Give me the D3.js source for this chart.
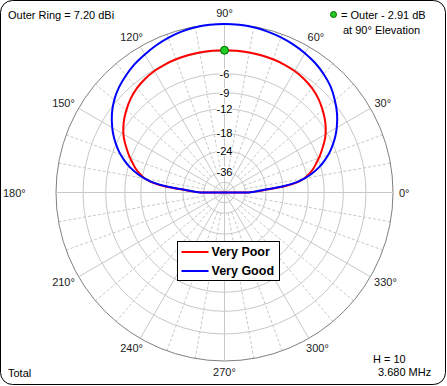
<!DOCTYPE html>
<html>
<head>
<meta charset="utf-8">
<script src="https://cdn.jsdelivr.net/npm/d3@7"></script>
<style>
  body { margin: 0; background: #fff; }
  svg { display: block; font-family: Arial, "Liberation Sans", sans-serif; }
</style>
</head>
<body>
<svg id="chart" width="447" height="386"></svg>
<script>
// ---------- data (dB relative to outer ring, by elevation angle) ----------
const elevations = [0, 2, 4, 6, 8, 10, 12, 15, 18, 21, 24, 27, 30, 35, 40, 45, 50, 55, 60, 65, 70, 75, 80, 85, 90,
  95, 100, 105, 110, 115, 120, 125, 130, 135, 140, 145, 150, 153, 156, 159, 162, 165, 168, 170, 172, 174, 176, 178, 180];

const veryPoor = [-33.4, -28.5, -23.8, -17.6, -14.3, -12.6, -11.6, -10.4, -9.5, -8.6, -7.8, -7.0, -6.3, -5.4, -4.7, -4.1, -3.65, -3.35, -3.15, -3.03, -2.96, -2.93, -2.91, -2.91, -2.91,
  -2.91, -2.91, -2.93, -2.96, -3.03, -3.15, -3.35, -3.65, -4.1, -4.7, -5.4, -6.3, -7.0, -7.8, -8.6, -9.5, -10.4, -11.6, -12.6, -14.3, -17.6, -23.8, -28.5, -33.4];

const veryGood = [-33.4, -29, -24.5, -18, -14.5, -12.5, -11, -9.3, -8, -6.9, -6.0, -5.2, -4.5, -3.5, -2.7, -2.0, -1.5, -1.1, -0.8, -0.55, -0.35, -0.2, -0.08, -0.02, 0,
  -0.02, -0.08, -0.2, -0.4, -0.65, -0.95, -1.25, -1.65, -2.1, -2.7, -3.5, -4.5, -5.2, -6.0, -6.9, -8.0, -9.3, -11, -12.5, -14.5, -18, -24.5, -29, -33.4];

const ringDb = [0, -3, -6, -9, -12, -18, -24, -36, -48];
const ringLabels = [-6, -9, -12, -18, -24, -36];
const angleTicks = d3.range(0, 360, 30);
const minorAngles = d3.range(0, 360, 10).filter(a => a % 30 !== 0);

const seriesNames = ["Very Poor", "Very Good"];
const seriesColors = ["#ff0000", "#0000ff"];

const maxLabel = "Outer Ring = 7.20 dBi";
const markerText = ["= Outer - 2.91 dB", "at 90\u00b0 Elevation"];
const markerElev = 90;
const markerDb = -2.91;

// ---------- setup ----------
const svg = d3.select("#chart");
const cx = 224.5, cy = 192.5, R = 168.5;

// ARRL style log scale: 0.89 per 2 dB
const rScale = db => R * Math.pow(0.89, -db / 2);
const rad = a => a * Math.PI / 180;
const px = (a, r) => cx + r * Math.cos(rad(a));
const py = (a, r) => cy - r * Math.sin(rad(a));

// border
svg.append("rect")
  .attr("x", 0.5).attr("y", 0.5)
  .attr("width", 445).attr("height", 384)
  .attr("rx", 12).attr("ry", 12)
  .attr("fill", "#fff").attr("stroke", "#000");

const grid = svg.append("g");

// dashed radial lines every 10 degrees
grid.selectAll(".minor")
  .data(minorAngles)
  .join("line")
  .attr("x1", a => px(a, rScale(-36))).attr("y1", a => py(a, rScale(-36)))
  .attr("x2", a => px(a, R)).attr("y2", a => py(a, R))
  .attr("stroke", "#c8c8c8").attr("stroke-dasharray", "3,2");

// rings
grid.selectAll(".ring")
  .data(ringDb)
  .join("circle")
  .attr("cx", cx).attr("cy", cy)
  .attr("r", d => rScale(d))
  .attr("fill", "none")
  .attr("stroke", d => d === 0 ? "#808080" : "#c8c8c8");

// solid radial lines every 30 degrees
grid.selectAll(".major")
  .data(angleTicks)
  .join("line")
  .attr("x1", cx).attr("y1", cy)
  .attr("x2", a => px(a, R)).attr("y2", a => py(a, R))
  .attr("stroke", "#c8c8c8");

// angle labels (the 180 label sits out at the frame edge in the original)
angleTicks.forEach(a => {
  const t = svg.append("text")
    .attr("font-size", 11)
    .attr("fill", "#222")
    .attr("text-anchor", "middle")
    .attr("dominant-baseline", "central")
    .text(a + "\u00b0");
  const w = t.node().getComputedTextLength();
  const c = Math.cos(rad(a)), s = Math.sin(rad(a));
  let x = px(a, R + 6) + c * w / 2;
  if (a === 180) x = 3 + w / 2;
  t.attr("x", x).attr("y", py(a, R + 6) - s * 5);
});

// ring labels on the 90 degree axis
ringLabels.forEach(db => {
  const y = cy - rScale(db);
  const t = svg.append("text")
    .attr("x", cx).attr("y", y)
    .attr("font-size", 11)
    .attr("text-anchor", "middle")
    .attr("dominant-baseline", "central")
    .text(db);
  const b = t.node().getBBox();
  svg.insert("rect", "text:last-of-type")
    .attr("x", b.x).attr("y", b.y + 1)
    .attr("width", b.width).attr("height", b.height - 2)
    .attr("fill", "#fff");
});

// ---------- traces ----------
const line = d3.line()
  .x(d => px(d[0], rScale(d[1])))
  .y(d => py(d[0], rScale(d[1])))
  .curve(d3.curveCatmullRom);

[veryPoor, veryGood].forEach((vals, i) => {
  // below the horizon the pattern drops to the centre
  const d = line(elevations.map((e, j) => [e, vals[j]])) + `L${cx},${cy}Z`;
  svg.append("path")
    .attr("d", d)
    .attr("fill", "none")
    .attr("stroke", seriesColors[i])
    .attr("stroke-width", 2);
});

// marker on the selected trace
svg.append("circle")
  .attr("cx", px(markerElev, rScale(markerDb)))
  .attr("cy", py(markerElev, rScale(markerDb)))
  .attr("r", 4)
  .attr("fill", "#22cc22").attr("stroke", "#006600");

// ---------- legend ----------
const legend = svg.append("g").attr("transform", "translate(177.5,241.5)");
legend.append("rect")
  .attr("width", 102).attr("height", 39)
  .attr("fill", "#fff").attr("stroke", "#000");
seriesNames.forEach((name, i) => {
  const y = 10.5 + i * 19;
  legend.append("line")
    .attr("x1", 4).attr("x2", 31).attr("y1", y).attr("y2", y)
    .attr("stroke", seriesColors[i]).attr("stroke-width", 2);
  legend.append("text")
    .attr("x", 34).attr("y", y)
    .attr("dominant-baseline", "central")
    .attr("font-size", 12.5).attr("font-weight", "bold")
    .text(name);
});

// ---------- corner texts ----------
const corner = (x, y, txt, anchor) => svg.append("text")
  .attr("x", x).attr("y", y)
  .attr("font-size", 11)
  .attr("text-anchor", anchor || "start")
  .attr("dominant-baseline", "central")
  .text(txt);

corner(8, 15, maxLabel);
svg.append("circle")
  .attr("cx", 333.5).attr("cy", 14.5).attr("r", 3)
  .attr("fill", "#22cc22").attr("stroke", "#006600");
corner(341, 15, markerText[0]);
corner(343, 30, markerText[1]);
corner(8, 373, "Total");
corner(373, 359, "H = 10");
corner(378, 372, "3.680 MHz");
</script>
</body>
</html>
